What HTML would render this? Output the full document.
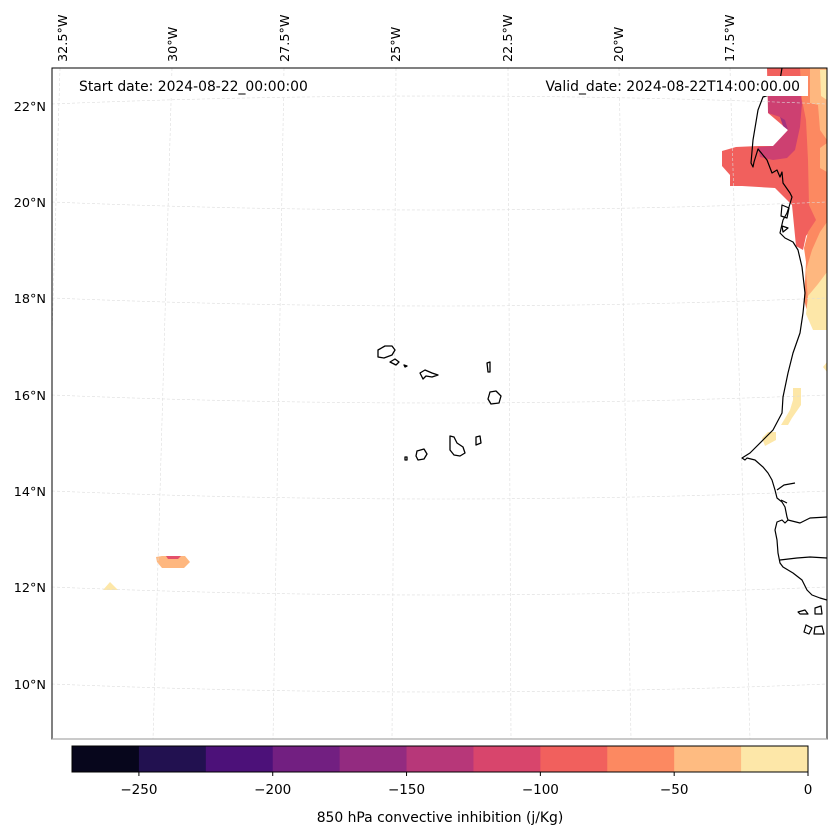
<!DOCTYPE html>
<html><head><meta charset="utf-8">
<style>
html,body{margin:0;padding:0;background:#fff;}
svg{display:block;font-family:"DejaVu Sans","Liberation Sans",sans-serif;}
</style></head>
<body>
<svg id="fig" width="837" height="836" viewBox="0 0 837 836">
<defs><clipPath id="mapclip"><rect x="52" y="68" width="775" height="671"/></clipPath></defs>
<g clip-path="url(#mapclip)">
  <g>
    <path fill="#f1605d" d="M767,68 L827,68 L827,232 L815,224 L806,236 L803,250 L796,246 L792,205 L775,188 L742,186 L730,186 L730,175 L722,166 L722,151 L736,147 L758,146 L776,146 L788,130 L768,113 Z"/>
    <path fill="#cd4071" d="M768,92 L800,92 L802,103 L800,127 L795,150 L787,158 L773,160 L760,157 L758,147 L773,146 L788,130 L780,117 L768,113 Z"/>
    <path fill="#a3327d" d="M780,117 L785,120 L788,130 L783,126 Z"/>
    <path fill="#fc8961" d="M800,68 L827,68 L827,330 L810,322 L804,300 L806,262 L804,248 L808,232 L816,220 L809,205 L808,160 L806,120 L802,100 Z"/>
    <path fill="#feb77f" d="M810,68 L827,68 L827,140 L820,130 L818,105 L810,103 Z M827,143 L827,172 L820,168 L820,148 Z M827,222 L827,300 L808,302 L806,270 L812,250 L820,232 Z M156,557 L162,556 L185,556 L190,562 L184,568 L162,568 L157,562 Z"/>
    <path fill="#fde7a8" d="M820,70 L827,70 L827,100 L821,96 Z M827,272 L827,330 L813,330 L806,314 L808,296 L818,284 Z M823,367 L827,362 L827,372 Z M793,388 L801,388 L801,405 L792,418 L788,425 L781,425 L790,410 L793,400 Z M762,438 L768,432 L776,432 L776,440 L765,446 Z M103,590 L118,590 L110,582 Z"/>
    <path fill="#e4506a" d="M166,556 L181,556 L178,559 L168,559 Z"/>
  </g>
  <g fill="none" stroke="#dcdcdc" stroke-width="0.6" stroke-dasharray="3,2">
    <path d="M60,68 L40,739"/>
    <path d="M172,68 L153,739"/>
    <path d="M284,68 L273,739"/>
    <path d="M396,68 L392,739"/>
    <path d="M508,68 L511,739"/>
    <path d="M619,68 L631,739"/>
    <path d="M730,68 L750,739"/>
    <path d="M52,104 Q440,88 827,104"/>
    <path d="M52,202 Q440,218 827,202"/>
    <path d="M52,298 Q440,314 827,298"/>
    <path d="M52,395 Q440,411 827,395"/>
    <path d="M52,491 Q440,507 827,491"/>
    <path d="M52,587 Q440,603 827,587"/>
    <path d="M52,684 Q440,700 827,684"/>
  </g>
  <g fill="none" stroke="#000" stroke-width="1.2" stroke-linejoin="round">
    <path d="M782,68 L778,92 L763,97 L758,110 L753,140 L751,163 L753,167 L754,162 L758,149 L767,160 L772,173 L777,170 L780,177 L782,172 L783,183 L790,193 L792,197 L789,207 L787,213 L783,220 L780,233 L785,238 L793,242 L798,250 L802,267 L805,293 L803,313 L800,333 L793,353 L788,373 L783,397 L782,413 L773,430 L763,440 L750,453 L742,458 L745,460 L747,458 L755,460 L763,467 L768,473 L772,480 L775,490 L777,498 L782,502 L785,507 L787,517 L788,520 L785,523 L782,520 L777,522 L775,530 L777,540 L778,553 L780,563 L783,567 L793,573 L802,580 L807,590 L812,595 L820,598 L827,600"/>
    <path d="M788,520 L800,523 L810,518 L827,517"/>
    <path d="M780,560 L797,558 L810,557 L827,558"/>
    <path d="M777,490 L784,485 L795,483 M781,500 L787,503"/>
    <path d="M798,612 L805,610 L808,614 L800,614 Z M815,608 L821,606 L822,614 L815,614 Z M806,625 L812,628 L809,634 L804,632 Z M815,627 L822,626 L824,634 L814,634 Z"/>
    <path d="M782,205 L789,208 L787,218 L781,216 Z M782,226 L788,228 L783,232 Z"/>
  </g>
  <g fill="none" stroke="#000" stroke-width="1.3" stroke-linejoin="round">
    <path d="M378,350 L385,346 L392,346 L395,350 L392,355 L384,358 L378,357 Z"/>
    <path d="M390,362 L395,359 L399,362 L396,365 Z"/>
    <path d="M404,365 L407,366 L405,367 Z"/>
    <path d="M420,373 L425,370 L432,373 L438,375 L432,377 L426,376 L423,379 Z"/>
    <path d="M487,363 L490,362 L490,372 L488,372 Z"/>
    <path d="M490,392 L496,391 L501,396 L499,403 L491,404 L488,399 Z"/>
    <path d="M476,437 L480,436 L481,443 L476,445 Z"/>
    <path d="M450,436 L454,437 L457,443 L463,447 L465,453 L460,456 L454,455 L450,450 Z"/>
    <path d="M417,451 L424,449 L427,454 L424,459 L418,460 L416,456 Z"/>
    <path d="M405,457 L407,457 L407,460 L405,460 Z"/>
  </g>
  <g>
    <rect x="73" y="76" width="244" height="20" fill="#fff"/>
    <text x="79" y="91" font-size="13.9">Start date: 2024-08-22_00:00:00</text>
    <rect x="539" y="76" width="269" height="20" fill="#fff"/>
    <text x="800" y="91" font-size="13.9" text-anchor="end">Valid_date: 2024-08-22T14:00:00.00</text>
  </g>
</g>
<rect x="52" y="68" width="775" height="671" fill="none" stroke="#000" stroke-width="1"/>
<line x1="52" y1="739" x2="827" y2="739" stroke="#aaa" stroke-width="1.2"/>
<g font-size="12.8">
  <text transform="translate(67,62) rotate(-90)">32.5°W</text>
  <text transform="translate(177,62) rotate(-90)">30°W</text>
  <text transform="translate(289,62) rotate(-90)">27.5°W</text>
  <text transform="translate(400,62) rotate(-90)">25°W</text>
  <text transform="translate(512,62) rotate(-90)">22.5°W</text>
  <text transform="translate(623,62) rotate(-90)">20°W</text>
  <text transform="translate(734,62) rotate(-90)">17.5°W</text>
</g>
<g font-size="12.8" text-anchor="end">
  <text x="46" y="111">22°N</text>
  <text x="46" y="207">20°N</text>
  <text x="46" y="303">18°N</text>
  <text x="46" y="400">16°N</text>
  <text x="46" y="496">14°N</text>
  <text x="46" y="592">12°N</text>
  <text x="46" y="689">10°N</text>
</g>
<g id="colorbar"></g>
<text x="440" y="822" font-size="13.9" text-anchor="middle">850 hPa convective inhibition (j/Kg)</text>
</svg>
<script>
const levels = [-275,-250,-225,-200,-175,-150,-125,-100,-75,-50,-25,0];
const colors = ["#07061c","#221150","#4c1179","#721f81","#932b80","#b73779","#d8456c","#f1605d","#fc8961","#febb81","#fde7a8"];
const tickVals = [-250,-200,-150,-100,-50,0];
(function(){
  const NS="http://www.w3.org/2000/svg";
  const g=document.getElementById('colorbar');
  const x0=72,x1=808,y0=746,h=26;
  const sx=v=>x0+(v-levels[0])/(levels[levels.length-1]-levels[0])*(x1-x0);
  for(let i=0;i<colors.length;i++){
    const r=document.createElementNS(NS,'rect');
    
    
    r.setAttribute('x',sx(levels[i]));r.setAttribute('y',y0);
    r.setAttribute('width',sx(levels[i+1])-sx(levels[i])+0.5);r.setAttribute('height',h);
    r.setAttribute('fill',colors[i]);g.appendChild(r);
  }
  const f=document.createElementNS(NS,'rect');
  
  
  f.setAttribute('x',x0);f.setAttribute('y',y0);f.setAttribute('width',x1-x0);f.setAttribute('height',h);
  f.setAttribute('fill','none');f.setAttribute('stroke','#000');f.setAttribute('stroke-width','1');g.appendChild(f);
  tickVals.forEach(v=>{
    const l=document.createElementNS(NS,'line');
    
    
    l.setAttribute('x1',sx(v));l.setAttribute('x2',sx(v));l.setAttribute('y1',y0+h);l.setAttribute('y2',y0+h+4);
    l.setAttribute('stroke','#000');g.appendChild(l);
    const t=document.createElementNS(NS,'text');
    
    
    t.setAttribute('x',sx(v));t.setAttribute('y',794);t.setAttribute('font-size','13.5');t.setAttribute('text-anchor','middle');
    t.textContent=v<0?'\u2212'+Math.abs(v):String(v);g.appendChild(t);
  });
})();
</script>
</body></html>
